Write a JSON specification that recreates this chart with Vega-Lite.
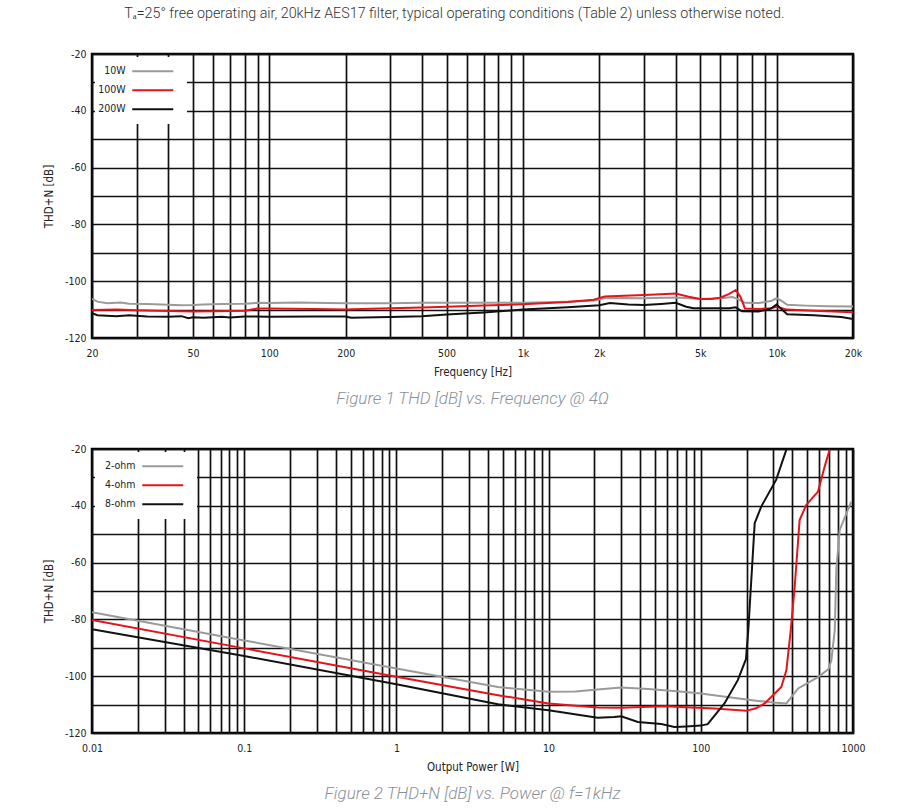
{
  "$schema": "https://vega.github.io/schema/vega-lite/v6.json",
  "padding": {"left": 42, "top": 7, "right": 18, "bottom": 5},
  "background": "white",
  "title": {
    "text": "Tₐ=25° free operating air, 20kHz AES17 filter, typical operating conditions (Table 2) unless otherwise noted.",
    "anchor": "middle",
    "font": "Roboto",
    "fontSize": 14.3,
    "fontWeight": 300,
    "color": "#333333",
    "offset": 26
  },
  "spacing": 33,
  "resolve": {"scale": {"color": "independent"}, "legend": {"color": "independent"}},
  "datasets": {
    "freq": [
      {"f": 20, "thd": -106.2, "s": "10W"}, {"f": 21, "thd": -107.2, "s": "10W"}, {"f": 23, "thd": -107.8, "s": "10W"}, {"f": 26, "thd": -107.5, "s": "10W"}, {"f": 28, "thd": -107.9, "s": "10W"}, {"f": 33, "thd": -108.0, "s": "10W"}, {"f": 40, "thd": -108.3, "s": "10W"}, {"f": 45, "thd": -108.5, "s": "10W"}, {"f": 50, "thd": -108.4, "s": "10W"}, {"f": 55, "thd": -108.2, "s": "10W"}, {"f": 65, "thd": -108.0, "s": "10W"}, {"f": 80, "thd": -107.9, "s": "10W"}, {"f": 90, "thd": -107.6, "s": "10W"}, {"f": 100, "thd": -107.7, "s": "10W"}, {"f": 130, "thd": -107.5, "s": "10W"}, {"f": 170, "thd": -107.7, "s": "10W"}, {"f": 200, "thd": -107.8, "s": "10W"}, {"f": 300, "thd": -107.8, "s": "10W"}, {"f": 400, "thd": -107.6, "s": "10W"}, {"f": 500, "thd": -107.6, "s": "10W"}, {"f": 700, "thd": -107.6, "s": "10W"}, {"f": 1000, "thd": -107.6, "s": "10W"}, {"f": 1500, "thd": -107.2, "s": "10W"}, {"f": 1900, "thd": -106.8, "s": "10W"}, {"f": 2100, "thd": -106.0, "s": "10W"}, {"f": 2500, "thd": -105.9, "s": "10W"}, {"f": 3000, "thd": -106.0, "s": "10W"}, {"f": 4000, "thd": -105.7, "s": "10W"}, {"f": 4500, "thd": -106.0, "s": "10W"}, {"f": 5000, "thd": -106.3, "s": "10W"}, {"f": 6000, "thd": -106.0, "s": "10W"}, {"f": 6700, "thd": -105.6, "s": "10W"}, {"f": 7000, "thd": -106.2, "s": "10W"}, {"f": 7500, "thd": -107.6, "s": "10W"}, {"f": 8500, "thd": -107.7, "s": "10W"}, {"f": 9500, "thd": -107.0, "s": "10W"}, {"f": 10000, "thd": -106.0, "s": "10W"}, {"f": 10500, "thd": -107.0, "s": "10W"}, {"f": 11000, "thd": -108.3, "s": "10W"}, {"f": 13000, "thd": -108.6, "s": "10W"}, {"f": 16000, "thd": -108.8, "s": "10W"}, {"f": 20000, "thd": -108.9, "s": "10W"},
      {"f": 20, "thd": -110.1, "s": "100W"}, {"f": 25, "thd": -110.0, "s": "100W"}, {"f": 30, "thd": -110.2, "s": "100W"}, {"f": 40, "thd": -110.5, "s": "100W"}, {"f": 50, "thd": -110.7, "s": "100W"}, {"f": 60, "thd": -110.6, "s": "100W"}, {"f": 70, "thd": -110.5, "s": "100W"}, {"f": 80, "thd": -110.4, "s": "100W"}, {"f": 90, "thd": -109.6, "s": "100W"}, {"f": 100, "thd": -109.6, "s": "100W"}, {"f": 150, "thd": -109.8, "s": "100W"}, {"f": 200, "thd": -110.0, "s": "100W"}, {"f": 250, "thd": -109.7, "s": "100W"}, {"f": 300, "thd": -109.5, "s": "100W"}, {"f": 400, "thd": -109.3, "s": "100W"}, {"f": 500, "thd": -109.0, "s": "100W"}, {"f": 700, "thd": -108.6, "s": "100W"}, {"f": 1000, "thd": -108.1, "s": "100W"}, {"f": 1500, "thd": -107.3, "s": "100W"}, {"f": 1900, "thd": -106.5, "s": "100W"}, {"f": 2100, "thd": -105.4, "s": "100W"}, {"f": 2500, "thd": -105.1, "s": "100W"}, {"f": 3000, "thd": -104.9, "s": "100W"}, {"f": 3500, "thd": -104.6, "s": "100W"}, {"f": 4000, "thd": -104.3, "s": "100W"}, {"f": 4500, "thd": -105.5, "s": "100W"}, {"f": 5000, "thd": -106.3, "s": "100W"}, {"f": 5500, "thd": -106.3, "s": "100W"}, {"f": 6000, "thd": -105.8, "s": "100W"}, {"f": 6500, "thd": -104.5, "s": "100W"}, {"f": 6900, "thd": -103.1, "s": "100W"}, {"f": 7200, "thd": -105.5, "s": "100W"}, {"f": 7500, "thd": -109.6, "s": "100W"}, {"f": 8500, "thd": -109.8, "s": "100W"}, {"f": 9500, "thd": -109.5, "s": "100W"}, {"f": 10000, "thd": -109.0, "s": "100W"}, {"f": 11000, "thd": -110.0, "s": "100W"}, {"f": 14000, "thd": -110.4, "s": "100W"}, {"f": 20000, "thd": -110.9, "s": "100W"},
      {"f": 20, "thd": -111.3, "s": "200W"}, {"f": 21, "thd": -112.0, "s": "200W"}, {"f": 25, "thd": -112.3, "s": "200W"}, {"f": 28, "thd": -112.0, "s": "200W"}, {"f": 33, "thd": -112.4, "s": "200W"}, {"f": 40, "thd": -112.5, "s": "200W"}, {"f": 45, "thd": -112.3, "s": "200W"}, {"f": 48, "thd": -113.0, "s": "200W"}, {"f": 50, "thd": -112.7, "s": "200W"}, {"f": 55, "thd": -112.9, "s": "200W"}, {"f": 65, "thd": -112.5, "s": "200W"}, {"f": 70, "thd": -112.8, "s": "200W"}, {"f": 80, "thd": -112.4, "s": "200W"}, {"f": 100, "thd": -112.5, "s": "200W"}, {"f": 150, "thd": -112.4, "s": "200W"}, {"f": 200, "thd": -112.4, "s": "200W"}, {"f": 210, "thd": -112.9, "s": "200W"}, {"f": 300, "thd": -112.6, "s": "200W"}, {"f": 400, "thd": -112.3, "s": "200W"}, {"f": 500, "thd": -111.7, "s": "200W"}, {"f": 700, "thd": -111.0, "s": "200W"}, {"f": 1000, "thd": -110.0, "s": "200W"}, {"f": 1500, "thd": -109.2, "s": "200W"}, {"f": 2000, "thd": -108.5, "s": "200W"}, {"f": 2200, "thd": -107.7, "s": "200W"}, {"f": 2600, "thd": -108.2, "s": "200W"}, {"f": 3000, "thd": -108.4, "s": "200W"}, {"f": 3500, "thd": -108.0, "s": "200W"}, {"f": 4000, "thd": -107.6, "s": "200W"}, {"f": 4400, "thd": -109.0, "s": "200W"}, {"f": 4700, "thd": -109.5, "s": "200W"}, {"f": 6500, "thd": -109.5, "s": "200W"}, {"f": 6900, "thd": -109.2, "s": "200W"}, {"f": 7300, "thd": -110.6, "s": "200W"}, {"f": 8500, "thd": -110.7, "s": "200W"}, {"f": 9500, "thd": -109.6, "s": "200W"}, {"f": 10000, "thd": -108.2, "s": "200W"}, {"f": 10500, "thd": -110.0, "s": "200W"}, {"f": 11000, "thd": -111.6, "s": "200W"}, {"f": 14000, "thd": -112.0, "s": "200W"}, {"f": 18000, "thd": -112.6, "s": "200W"}, {"f": 20000, "thd": -113.3, "s": "200W"}
    ],
    "power": [
      {"p": 0.01, "thd": -77.5, "s": "2-ohm"}, {"p": 0.1, "thd": -87.4, "s": "2-ohm"}, {"p": 1, "thd": -97.3, "s": "2-ohm"}, {"p": 4.65, "thd": -103.8, "s": "2-ohm"}, {"p": 10, "thd": -105.5, "s": "2-ohm"}, {"p": 15, "thd": -105.4, "s": "2-ohm"}, {"p": 21, "thd": -104.7, "s": "2-ohm"}, {"p": 30, "thd": -104.0, "s": "2-ohm"}, {"p": 45, "thd": -104.5, "s": "2-ohm"}, {"p": 70, "thd": -105.3, "s": "2-ohm"}, {"p": 100, "thd": -106.1, "s": "2-ohm"}, {"p": 158, "thd": -107.5, "s": "2-ohm"}, {"p": 238, "thd": -108.7, "s": "2-ohm"}, {"p": 300, "thd": -109.3, "s": "2-ohm"}, {"p": 365, "thd": -109.6, "s": "2-ohm"}, {"p": 436, "thd": -104.3, "s": "2-ohm"}, {"p": 589, "thd": -100.3, "s": "2-ohm"}, {"p": 690, "thd": -97.5, "s": "2-ohm"}, {"p": 721, "thd": -94.4, "s": "2-ohm"}, {"p": 759, "thd": -83.8, "s": "2-ohm"}, {"p": 777, "thd": -62.6, "s": "2-ohm"}, {"p": 818, "thd": -48.5, "s": "2-ohm"}, {"p": 975, "thd": -38.5, "s": "2-ohm"},
      {"p": 0.01, "thd": -80.2, "s": "4-ohm"}, {"p": 0.1, "thd": -90.2, "s": "4-ohm"}, {"p": 1, "thd": -100.2, "s": "4-ohm"}, {"p": 4.65, "thd": -106.7, "s": "4-ohm"}, {"p": 10, "thd": -109.6, "s": "4-ohm"}, {"p": 21, "thd": -111.0, "s": "4-ohm"}, {"p": 30, "thd": -111.1, "s": "4-ohm"}, {"p": 58, "thd": -110.6, "s": "4-ohm"}, {"p": 80, "thd": -110.9, "s": "4-ohm"}, {"p": 123, "thd": -111.4, "s": "4-ohm"}, {"p": 170, "thd": -111.9, "s": "4-ohm"}, {"p": 199, "thd": -112.2, "s": "4-ohm"}, {"p": 230, "thd": -111.3, "s": "4-ohm"}, {"p": 263, "thd": -109.6, "s": "4-ohm"}, {"p": 338, "thd": -103.8, "s": "4-ohm"}, {"p": 365, "thd": -97.9, "s": "4-ohm"}, {"p": 390, "thd": -83.8, "s": "4-ohm"}, {"p": 414, "thd": -68.5, "s": "4-ohm"}, {"p": 446, "thd": -45.0, "s": "4-ohm"}, {"p": 493, "thd": -39.7, "s": "4-ohm"}, {"p": 589, "thd": -35.0, "s": "4-ohm"}, {"p": 652, "thd": -26.1, "s": "4-ohm"}, {"p": 703, "thd": -20.2, "s": "4-ohm"},
      {"p": 0.01, "thd": -83.5, "s": "8-ohm"}, {"p": 0.1, "thd": -92.9, "s": "8-ohm"}, {"p": 1, "thd": -102.8, "s": "8-ohm"}, {"p": 4.65, "thd": -109.9, "s": "8-ohm"}, {"p": 10, "thd": -112.0, "s": "8-ohm"}, {"p": 21, "thd": -114.6, "s": "8-ohm"}, {"p": 27, "thd": -114.4, "s": "8-ohm"}, {"p": 30, "thd": -114.1, "s": "8-ohm"}, {"p": 38.6, "thd": -116.1, "s": "8-ohm"}, {"p": 55, "thd": -116.8, "s": "8-ohm"}, {"p": 67, "thd": -117.9, "s": "8-ohm"}, {"p": 80, "thd": -117.7, "s": "8-ohm"}, {"p": 100, "thd": -117.4, "s": "8-ohm"}, {"p": 111, "thd": -116.9, "s": "8-ohm"}, {"p": 143, "thd": -109.6, "s": "8-ohm"}, {"p": 175, "thd": -101.4, "s": "8-ohm"}, {"p": 198, "thd": -94.0, "s": "8-ohm"}, {"p": 205, "thd": -84.0, "s": "8-ohm"}, {"p": 226, "thd": -46.1, "s": "8-ohm"}, {"p": 250, "thd": -40.2, "s": "8-ohm"}, {"p": 313, "thd": -30.8, "s": "8-ohm"}, {"p": 365, "thd": -20.2, "s": "8-ohm"}
    ]
  },
  "vconcat": [
    {
      "width": 761,
      "height": 284,
      "data": {"name": "freq"},
      "title": {"text": "Figure 1 THD [dB] vs. Frequency @ 4Ω", "orient": "bottom", "anchor": "middle", "font": "Roboto", "fontStyle": "italic", "fontWeight": 300, "fontSize": 17, "color": "#8a9199", "offset": 13},
      "mark": {"type": "line", "strokeWidth": 2, "clip": true},
      "encoding": {
        "x": {"field": "f", "type": "quantitative", "scale": {"type": "log", "domain": [20, 20000], "nice": false},
          "axis": {"title": "Frequency [Hz]",
            "values": [20,30,40,50,60,70,80,90,100,200,300,400,500,600,700,800,900,1000,2000,3000,4000,5000,6000,7000,8000,9000,10000,20000],
            "labelExpr": "indexof([20,50,100,200,500], datum.value) >= 0 ? '' + datum.value : (indexof([1000,2000,5000,10000,20000], datum.value) >= 0 ? (datum.value/1000) + 'k' : '')"}},
        "y": {"field": "thd", "type": "quantitative", "scale": {"domain": [-120, -20], "nice": false},
          "axis": {"title": "THD+N [dB]", "values": [-120,-110,-100,-90,-80,-70,-60,-50,-40,-30,-20],
            "labelExpr": "datum.value % 20 == 0 ? '' + datum.value : ''"}},
        "color": {"field": "s", "type": "nominal", "sort": ["10W", "100W", "200W"],
          "scale": {"domain": ["10W", "100W", "200W"], "range": ["#9a9a9a", "#e3141b", "#111111"]},
          "legend": {"title": null, "symbolType": "M5.75,0H16", "labelOffset": 11}}
      }
    },
    {
      "width": 761,
      "height": 284,
      "data": {"name": "power"},
      "title": {"text": "Figure 2 THD+N [dB] vs. Power @ f=1kHz", "orient": "bottom", "anchor": "middle", "font": "Roboto", "fontStyle": "italic", "fontWeight": 300, "fontSize": 17, "color": "#8a9199", "offset": 13},
      "mark": {"type": "line", "strokeWidth": 2, "clip": true},
      "encoding": {
        "x": {"field": "p", "type": "quantitative", "scale": {"type": "log", "domain": [0.01, 1000], "nice": false},
          "axis": {"title": "Output Power [W]", "format": "~g",
            "values": [0.01,0.02,0.03,0.04,0.05,0.06,0.07,0.08,0.09,0.1,0.2,0.3,0.4,0.5,0.6,0.7,0.8,0.9,1,2,3,4,5,6,7,8,9,10,20,30,40,50,60,70,80,90,100,200,300,400,500,600,700,800,900,1000],
            "labelExpr": "indexof([0.01,0.1,1,10,100,1000], datum.value) >= 0 ? datum.label : ''"}},
        "y": {"field": "thd", "type": "quantitative", "scale": {"domain": [-120, -20], "nice": false},
          "axis": {"title": "THD+N [dB]", "values": [-120,-110,-100,-90,-80,-70,-60,-50,-40,-30,-20],
            "labelExpr": "datum.value % 20 == 0 ? '' + datum.value : ''"}},
        "color": {"field": "s", "type": "nominal", "sort": ["2-ohm", "4-ohm", "8-ohm"],
          "scale": {"domain": ["2-ohm", "4-ohm", "8-ohm"], "range": ["#9a9a9a", "#e3141b", "#111111"]},
          "legend": {"title": null, "symbolType": "M8.25,0H18.5", "labelOffset": 21}}
      }
    }
  ],
  "config": {
    "view": {"stroke": "#000000", "strokeWidth": 2.5},
    "axis": {
      "grid": true, "gridColor": "#111111", "gridWidth": 1.7, "gridOpacity": 1,
      "domain": false, "ticks": false,
      "labelFont": "DejaVu Sans Condensed, Liberation Sans, sans-serif", "labelFontSize": 10.5, "labelColor": "#222222", "labelPadding": 10, "labelFlush": false,
      "titleFont": "DejaVu Sans Condensed, Liberation Sans, sans-serif", "titleFontSize": 11.5, "titleFontWeight": "normal", "titleColor": "#222222"
    },
    "axisX": {"titlePadding": 8},
    "axisY": {"titlePadding": 10, "labelPadding": 6},
    "legend": {
      "orient": "top-left", "offset": 3, "fillColor": "white", "padding": 9,
      "symbolSize": 64, "symbolStrokeWidth": 2,
      "labelFont": "DejaVu Sans Condensed, Liberation Sans, sans-serif", "labelFontSize": 10.5, "labelColor": "#222222",
      "labelAlign": "right", "rowPadding": 8
    }
  }
}
